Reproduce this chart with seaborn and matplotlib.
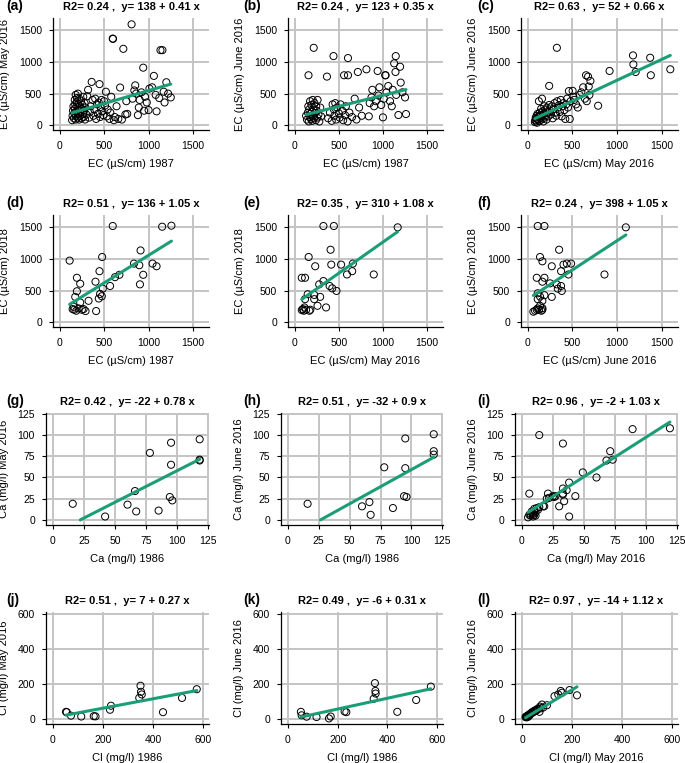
import numpy as np
import matplotlib
matplotlib.use("Agg")
import matplotlib.pyplot as plt
import seaborn as sns

# (a) EC 1987 vs EC May 2016
a_x = [140, 145, 150, 155, 160, 165, 170, 170, 175, 180, 180, 185, 190, 190, 195, 200, 200, 205,
       210, 210, 215, 220, 220, 225, 230, 235, 240, 245, 250, 255, 260, 265, 270, 275, 280, 285,
       290, 300, 310, 320, 330, 340, 350, 360, 370, 380, 390, 400, 410, 420, 430, 440, 448, 455,
       460, 470, 480, 490, 500, 510, 520, 530, 540, 560, 570, 580, 597, 600, 610, 620, 640, 660,
       680, 700, 716, 740, 750, 760, 809, 820, 840, 850, 860, 880, 890, 900, 920, 940, 950, 960,
       980, 1000, 1010, 1040, 1060, 1080, 1090, 1120, 1134, 1156, 1170, 1180, 1200, 1220, 1250]
a_y = [80, 150, 230, 300, 110, 190, 260, 400, 330, 90, 480, 150, 220, 360, 430, 280, 120, 500,
       180, 340, 240, 90, 420, 300, 150, 200, 380, 110, 260, 320, 180, 450, 130, 230, 350, 90,
       280, 170, 460, 560, 120, 210, 300, 685, 400, 150, 250, 420, 100, 330, 180, 360, 650, 130,
       290, 400, 220, 160, 380, 310, 530, 140, 250, 100, 200, 450, 1370, 1365, 80, 130, 300, 100,
       596, 90, 1208, 170, 380, 180, 1595, 420, 550, 630, 500, 160, 280, 400, 520, 910, 230, 450,
       360, 240, 580, 600, 780, 480, 220, 430, 1187, 1187, 530, 360, 680, 500, 440]

# (b) EC 1987 vs EC June 2016
b_x = [130, 140, 150, 155, 160, 165, 170, 175, 180, 185, 190, 195, 200, 205, 210, 215, 220, 225,
       230, 240, 245, 250, 255, 260, 270, 280, 290, 300, 157, 216, 366, 380, 400, 420, 430, 440,
       445, 450, 460, 470, 480, 500, 510, 520, 540, 550, 560, 570, 580, 600, 604, 604, 620, 650,
       680, 700, 716, 730, 760, 813, 840, 850, 870, 880, 900, 920, 940, 950, 960, 980, 1000, 1010,
       1026, 1030, 1040, 1060, 1080, 1100, 1110, 1127, 1142, 1145, 1150, 1175, 1194, 1201, 1220,
       1250, 1261]
b_y = [150, 90, 200, 300, 60, 250, 130, 380, 180, 100, 320, 220, 70, 400, 150, 270, 110, 350,
       190, 80, 300, 230, 120, 400, 170, 60, 280, 140, 790, 1224, 769, 110, 200, 70, 330, 1093,
       250, 150, 350, 90, 280, 190, 120, 330, 230, 80, 790, 160, 300, 60, 1062, 790, 200, 130,
       420, 90, 842, 280, 150, 884, 141, 350, 440, 560, 300, 380, 858, 470, 600, 320, 125, 420,
       790, 790, 520, 620, 380, 300, 560, 978, 842, 1093, 480, 162, 925, 674, 520,
       440, 177]

# (c) EC May 2016 vs EC June 2016
c_x = [80, 85, 90, 95, 100, 100, 105, 110, 115, 120, 125, 130, 135, 140, 145, 150, 155, 160,
       165, 170, 175, 180, 185, 190, 195, 200, 210, 215, 220, 230, 240, 240, 250, 260, 270, 280,
       290, 300, 310, 320, 326, 330, 340, 350, 360, 370, 380, 390, 400, 410, 420, 430, 440, 450,
       460, 470, 480, 502, 510, 520, 540, 560, 580, 600, 620, 640, 652, 660, 675, 682, 690, 701,
       787, 915, 1177, 1181, 1207, 1369, 1376, 1594]
c_y = [50, 80, 120, 60, 100, 150, 40, 180, 90, 130, 380, 70, 200, 110, 160, 260, 90, 420,
       140, 220, 60, 180, 300, 120, 250, 160, 90, 280, 200, 140, 622, 320, 230, 170, 300, 110,
       260, 350, 200, 150, 1224, 380, 280, 320, 210, 400, 140, 300, 350, 240, 100, 330, 420, 280,
       540, 100, 380, 544, 450, 400, 330, 280, 480, 520, 600, 420, 790, 380, 769, 612, 480, 700,
       309, 858, 1104, 962, 842, 1067, 790, 884]

# (d) EC 1987 vs EC 2018
d_x = [112, 597, 1153, 1257, 478, 448, 194, 231, 403, 194, 623, 672, 836, 896, 910, 940, 903,
       1045, 1090, 567, 485, 455, 474, 440, 175, 325, 231, 157, 213, 164, 269, 291, 410, 146, 187, 250]
d_y = [974, 1521, 1510, 1526, 1031, 807, 703, 609, 641, 490, 713, 750, 927, 901, 1135, 750, 599,
       927, 885, 573, 531, 448, 411, 375, 401, 339, 313, 245, 219, 198, 208, 177, 177, 208, 182, 198]

# (e) EC May 2016 vs EC 2018
e_x = [326, 444, 1167, 407, 159, 233, 415, 526, 659, 652, 593, 896, 81, 118, 326, 278, 396, 426,
       474, 148, 118, 222, 289, 222, 259, 356, 93, 81, 104, 130, 178, 167, 111]
e_y = [1521, 1521, 1500, 1146, 1031, 885, 911, 911, 927, 807, 755, 755, 703, 703, 651, 599, 573,
       536, 495, 443, 365, 432, 401, 365, 260, 234, 208, 193, 182, 198, 198, 182, 234]

# (f) EC June 2016 vs EC 2018
f_x = [112, 187, 1097, 351, 138, 164, 269, 400, 437, 485, 373, 455, 858, 101, 187, 164, 250, 325,
       373, 336, 381, 112, 138, 187, 269, 112, 164, 138, 164, 63, 101, 82, 127, 164, 112, 153]
f_y = [1521, 1521, 1500, 1146, 1031, 963, 885, 911, 927, 927, 807, 755, 755, 703, 703, 641, 615,
       599, 573, 531, 495, 458, 406, 427, 401, 365, 339, 260, 224, 167, 198, 182, 198, 198, 219, 182]

# (g) Ca 1986 vs Ca May 2016
g_x = [16, 42, 60, 66, 67, 78, 85, 94, 95, 95, 96, 118, 118, 118]
g_y = [19, 4, 18, 34, 10, 79, 11, 27, 91, 65, 23, 95, 71, 70]

# (h) Ca 1986 vs Ca June 2016
h_x = [16, 60, 66, 67, 78, 85, 94, 95, 95, 96, 118, 118, 118]
h_y = [19, 16, 21, 6, 62, 14, 28, 96, 61, 27, 101, 81, 77]

# (i) Ca May 2016 vs Ca June 2016
i_x = [14, 33, 6, 5, 6, 7, 8, 9, 9, 10, 10, 11, 10, 12, 13, 14, 17, 18, 20, 21, 22, 25, 26, 27,
       30, 33, 33, 33, 34, 36, 38, 38, 43, 49, 60, 68, 71, 73, 89, 119, 7, 8, 11]
i_y = [100, 90, 31, 3, 6, 5, 8, 4, 7, 6, 10, 9, 13, 14, 12, 15, 16, 16, 25, 31, 26, 28, 27, 28,
       16, 30, 31, 37, 22, 35, 44, 4, 28, 56, 50, 70, 81, 71, 107, 108, 7, 10, 5]

# (j) Cl 1986 vs Cl May 2016
j_x = [52, 55, 72, 113, 163, 170, 228, 232, 345, 350, 352, 355, 440, 516, 575]
j_y = [40, 38, 18, 13, 15, 14, 52, 75, 120, 190, 155, 140, 38, 120, 170]

# (k) Cl 1986 vs Cl June 2016
k_x = [52, 55, 75, 115, 165, 172, 228, 235, 345, 350, 352, 353, 440, 516, 575]
k_y = [40, 20, 12, 10, 2, 13, 42, 38, 115, 205, 160, 145, 40, 108, 185]

# (l) Cl May 2016 vs Cl June 2016
l_x = [14, 16, 18, 20, 22, 24, 26, 28, 30, 32, 35, 38, 40, 42, 45, 48, 50, 55, 58, 60, 65, 70,
       72, 75, 80, 85, 100, 130, 145, 155, 160, 190, 220, 20, 25, 30]
l_y = [10, 12, 8, 15, 18, 14, 20, 22, 25, 28, 30, 32, 38, 35, 40, 45, 42, 50, 48, 55, 58, 40,
       70, 60, 82, 65, 78, 130, 140, 160, 150, 165, 135, 10, 12, 20]

letters = ["(a)", "(b)", "(c)", "(d)", "(e)", "(f)", "(g)", "(h)", "(i)", "(j)", "(k)", "(l)"]
titles = ["R2= 0.24 ,  y= 138 + 0.41 x", "R2= 0.24 ,  y= 123 + 0.35 x", "R2= 0.63 ,  y= 52 + 0.66 x",
          "R2= 0.51 ,  y= 136 + 1.05 x", "R2= 0.35 ,  y= 310 + 1.08 x", "R2= 0.24 ,  y= 398 + 1.05 x",
          "R2= 0.42 ,  y= -22 + 0.78 x", "R2= 0.51 ,  y= -32 + 0.9 x", "R2= 0.96 ,  y= -2 + 1.03 x",
          "R2= 0.51 ,  y= 7 + 0.27 x", "R2= 0.49 ,  y= -6 + 0.31 x", "R2= 0.97 ,  y= -14 + 1.12 x"]
xlabels = ["EC (µS/cm) 1987", "EC (µS/cm) 1987", "EC (µS/cm) May 2016",
           "EC (µS/cm) 1987", "EC (µS/cm) May 2016", "EC (µS/cm) June 2016",
           "Ca (mg/l) 1986", "Ca (mg/l) 1986", "Ca (mg/l) May 2016",
           "Cl (mg/l) 1986", "Cl (mg/l) 1986", "Cl (mg/l) May 2016"]
ylabels = ["EC (µS/cm) May 2016", "EC (µS/cm) June 2016", "EC (µS/cm) June 2016",
           "EC (µS/cm) 2018", "EC (µS/cm) 2018", "EC (µS/cm) 2018",
           "Ca (mg/l) May 2016", "Ca (mg/l) June 2016", "Ca (mg/l) June 2016",
           "Cl (mg/l) May 2016", "Cl (mg/l) June 2016", "Cl (mg/l) June 2016"]
# drawn fit lines (intercept, slope)
line_b0 = [138, 123, 52, 185, 283, 365, -16.4, -21.3, 4.3, 7, -6, -5.8]
line_b1 = [0.41, 0.35, 0.66, 0.873, 0.984, 0.925, 0.745, 0.806, 0.933, 0.27, 0.31, 0.863]

ec_ticks = [0, 500, 1000, 1500]
ca_ticks = [0, 25, 50, 75, 100, 125]
cl_ticks = [0, 200, 400, 600]

xs_all = [a_x, b_x, c_x, d_x, e_x, f_x, g_x, h_x, i_x, j_x, k_x, l_x]
ys_all = [a_y, b_y, c_y, d_y, e_y, f_y, g_y, h_y, i_y, j_y, k_y, l_y]

sns.set_theme(style="ticks")
plt.rcParams['font.family'] = ['Liberation Sans', 'DejaVu Sans']
plt.rcParams.update({"text.color": "black", "axes.labelcolor": "black",
                     "xtick.color": "black", "ytick.color": "black"})

W, H = 685, 763
fig = plt.figure(figsize=(W / 100, H / 100), dpi=100)

tops = [18, 215, 413, 612]
ax_h = 112
rights = [209, 443, 678]
lefts_ec = [53, 288, 521]
lefts_ion = [46, 281, 515]
letter_x = [6, 243, 477]

for i in range(12):
    row, col = divmod(i, 3)
    left = lefts_ec[col] if row < 2 else lefts_ion[col]
    top = tops[row]
    ax = fig.add_axes([left / W, 1 - (top + ax_h) / H, (rights[col] - left) / W, ax_h / H])

    x = np.array(xs_all[i], dtype=float)
    y = np.array(ys_all[i], dtype=float)
    sns.scatterplot(x=x, y=y, ax=ax, s=26, marker="o", zorder=3)
    pts = ax.collections[-1]
    pts.set_facecolor("none")
    pts.set_edgecolor("black")
    pts.set_linewidth(0.7)

    b0, b1 = line_b0[i], line_b1[i]
    x0 = x.min()
    if b0 < 0:
        x0 = max(x0, -b0 / b1)
    lx = np.array([x0, x.max()])
    sns.lineplot(x=lx, y=b0 + b1 * lx, ax=ax, color="#1B9E77", lw=2.2, zorder=4)

    if row < 2:
        ticks = ec_ticks
        ax.set_xlim(-75, 1680)
        ax.set_ylim(-75, 1695)
    elif row == 2:
        ticks = ca_ticks
        ax.set_xlim(-5.5, 125.5)
        ax.set_ylim(-6, 126)
    else:
        ticks = cl_ticks
        ax.set_xlim(-28, 624)
        ax.set_ylim(-30, 614)
    ax.set_xticks(ticks)
    ax.set_yticks(ticks)

    ax.grid(True, color="#C4C4C4", lw=1.4)
    ax.set_axisbelow(True)
    for s in ["top", "right"]:
        ax.spines[s].set_visible(False)
    for s in ["left", "bottom"]:
        ax.spines[s].set_color("black")
        ax.spines[s].set_linewidth(0.9)
    ax.tick_params(direction="out", length=3, width=0.8, color="black",
                   labelsize=7.5, pad=5, bottom=True, left=True)

    ax.set_xlabel(xlabels[i], fontsize=8, labelpad=6)
    ax.set_ylabel(ylabels[i], fontsize=8, labelpad=6)
    ax.set_title(titles[i], fontsize=8, fontweight="bold", pad=6)

    fig.text(letter_x[col] / W, 1 - (top - 12) / H, letters[i], fontsize=10,
             fontweight="bold", ha="left", va="center")

fig.savefig("out.png", dpi=100)
plt.close(fig)
